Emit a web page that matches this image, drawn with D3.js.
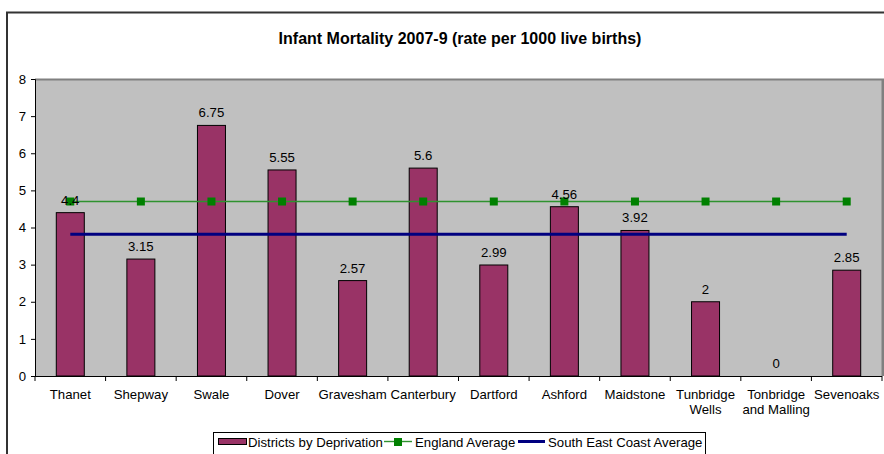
<!DOCTYPE html>
<html>
<head>
<meta charset="utf-8">
<script src="https://cdn.jsdelivr.net/npm/d3@7"></script>
<style>
  html, body { margin: 0; padding: 0; background: #fff; }
  svg { display: block; font-family: "Liberation Sans", Arial, sans-serif; }
</style>
</head>
<body>
<svg id="chart" width="884" height="454"></svg>
<script>
// Infant mortality by district, 2007-9
const districts = ["Thanet", "Shepway", "Swale", "Dover", "Gravesham", "Canterbury",
  "Dartford", "Ashford", "Maidstone", "Tunbridge\nWells", "Tonbridge\nand Malling", "Sevenoaks"];
const rates = [4.4, 3.15, 6.75, 5.55, 2.57, 5.6, 2.99, 4.56, 3.92, 2, 0, 2.85];
const englandAverage = [4.7, 4.7, 4.7, 4.7, 4.7, 4.7, 4.7, 4.7, 4.7, 4.7, 4.7, 4.7];
const seCoastAverage = [3.82, 3.82, 3.82, 3.82, 3.82, 3.82, 3.82, 3.82, 3.82, 3.82, 3.82, 3.82];
const yTicks = [0, 1, 2, 3, 4, 5, 6, 7, 8];
const seriesNames = ["Districts by Deprivation", "England Average", "South East Coast Average"];

const svg = d3.select("#chart");
const plot = { left: 35, right: 882, top: 79, bottom: 376 };
const FS = 13.2;

// outer chart frame
svg.append("rect").attr("x", 7).attr("y", 12.5).attr("width", 900).attr("height", 500)
  .attr("fill", "#fff").attr("stroke", "#333").attr("stroke-width", 2);

svg.append("text").attr("x", 460).attr("y", 44).attr("text-anchor", "middle")
  .attr("font-size", 16).attr("font-weight", "bold").attr("fill", "#000")
  .text("Infant Mortality 2007-9 (rate per 1000 live births)");

const x = d3.scaleBand().domain(districts).range([plot.left, plot.right]);
const y = d3.scaleLinear().domain([0, 8]).range([plot.bottom, plot.top]);

// plot area
svg.append("rect").attr("x", plot.left).attr("y", plot.top)
  .attr("width", plot.right - plot.left).attr("height", plot.bottom - plot.top)
  .attr("fill", "#c0c0c0");
svg.append("line").attr("x1", plot.left).attr("x2", plot.right + 2)
  .attr("y1", plot.top + 0.5).attr("y2", plot.top + 0.5)
  .attr("stroke", "#808080").attr("stroke-width", 2);
svg.append("line").attr("x1", plot.right + 1).attr("x2", plot.right + 1)
  .attr("y1", plot.top).attr("y2", plot.bottom)
  .attr("stroke", "#808080").attr("stroke-width", 3);

// bars
const barW = 28;
svg.append("g").selectAll("rect").data(districts).join("rect")
  .attr("x", d => x(d) + x.bandwidth() / 2 - barW / 2)
  .attr("y", (d, i) => y(rates[i]))
  .attr("width", barW)
  .attr("height", (d, i) => y(0) - y(rates[i]))
  .attr("fill", "#993366").attr("stroke", "#000").attr("stroke-width", 1);

const cx = d => x(d) + x.bandwidth() / 2;

// South East Coast average
svg.append("path")
  .attr("d", d3.line().x(d => cx(d)).y((d, i) => y(seCoastAverage[i]))(districts))
  .attr("fill", "none").attr("stroke", "#000080").attr("stroke-width", 3);

// England average
svg.append("path")
  .attr("d", d3.line().x(d => cx(d)).y((d, i) => y(englandAverage[i]))(districts))
  .attr("fill", "none").attr("stroke", "#2f922f").attr("stroke-width", 1.4);
svg.append("g").selectAll("rect").data(districts).join("rect")
  .attr("x", d => cx(d) - 4).attr("y", (d, i) => y(englandAverage[i]) - 4)
  .attr("width", 8).attr("height", 8).attr("fill", "#008000");

// value labels
svg.append("g").selectAll("text").data(districts).join("text")
  .attr("x", cx).attr("y", (d, i) => y(rates[i]) - 8)
  .attr("text-anchor", "middle").attr("font-size", FS).attr("fill", "#000")
  .text((d, i) => String(rates[i]));

// y axis
const yAxis = svg.append("g").attr("transform", `translate(${plot.left},0)`)
  .call(d3.axisLeft(y).tickValues(yTicks).tickSize(4).tickPadding(5));
yAxis.select(".domain").attr("stroke", "#000");
yAxis.selectAll("text").attr("font-size", FS).attr("fill", "#000")
  .attr("font-family", "Liberation Sans, Arial, sans-serif");

// x axis with ticks between categories
const xAxis = svg.append("g");
xAxis.append("line").attr("x1", plot.left).attr("x2", plot.right)
  .attr("y1", plot.bottom + 0.5).attr("y2", plot.bottom + 0.5).attr("stroke", "#000");
xAxis.selectAll("line.tick").data(districts.concat(["end"])).join("line")
  .attr("class", "tick")
  .attr("x1", (d, i) => plot.left + i * x.bandwidth())
  .attr("x2", (d, i) => plot.left + i * x.bandwidth())
  .attr("y1", plot.bottom).attr("y2", plot.bottom + 5).attr("stroke", "#000");
xAxis.selectAll("text").data(districts).join("text")
  .attr("x", cx).attr("y", plot.bottom + 23)
  .attr("text-anchor", "middle").attr("font-size", FS).attr("fill", "#000")
  .each(function (d) {
    d.split("\n").forEach((line, k) => {
      d3.select(this).append("tspan").attr("x", cx(d)).attr("dy", k === 0 ? 0 : 15).text(line);
    });
  });

// legend
const lg = svg.append("g").attr("font-size", FS);
lg.append("rect").attr("x", 213.5).attr("y", 432.5).attr("width", 492).attr("height", 30)
  .attr("fill", "#fff").attr("stroke", "#000");
lg.append("rect").attr("x", 218.5).attr("y", 438.5).attr("width", 28).attr("height", 6)
  .attr("fill", "#993366").attr("stroke", "#000");
lg.append("text").attr("x", 248).attr("y", 447).text(seriesNames[0]);
lg.append("line").attr("x1", 384).attr("x2", 412).attr("y1", 441.5).attr("y2", 441.5)
  .attr("stroke", "#2f922f").attr("stroke-width", 1.4);
lg.append("rect").attr("x", 394).attr("y", 438).attr("width", 8).attr("height", 8).attr("fill", "#008000");
lg.append("text").attr("x", 415).attr("y", 447).text(seriesNames[1]);
lg.append("line").attr("x1", 518).attr("x2", 545).attr("y1", 441.5).attr("y2", 441.5)
  .attr("stroke", "#000080").attr("stroke-width", 3);
lg.append("text").attr("x", 548).attr("y", 447).text(seriesNames[2]);
</script>
</body>
</html>
